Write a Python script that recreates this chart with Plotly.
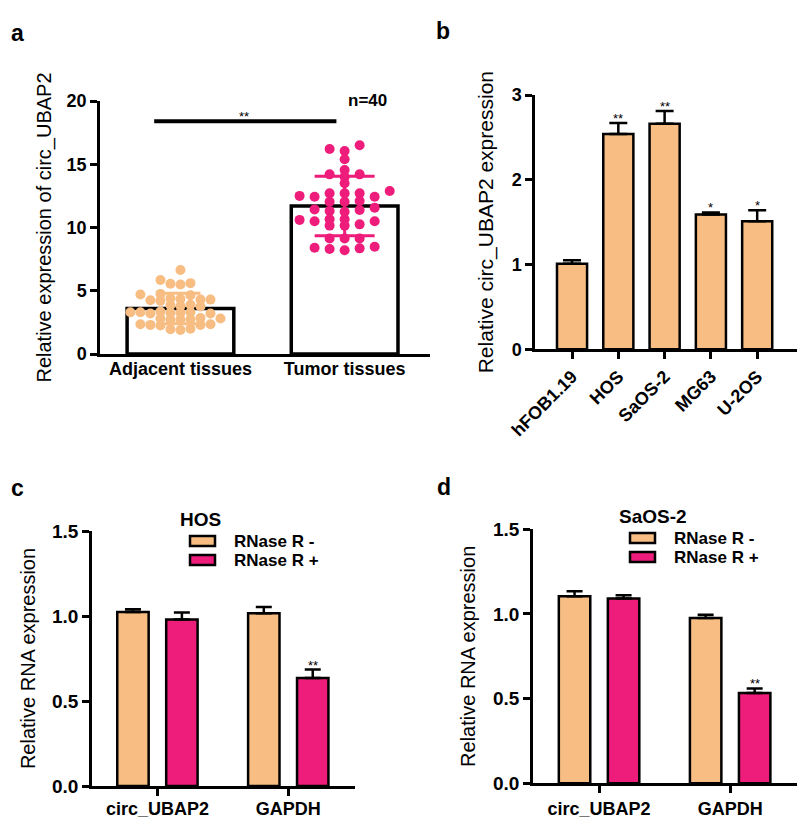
import plotly.graph_objects as go

# ---------------- data ----------------
# panel a
a_groups = ["Adjacent tissues", "Tumor tissues"]
a_adjacent = [6.64,
              5.85, 5.6, 5.55, 5.5,
              4.75, 4.7, 4.65,
              4.35, 4.3, 4.25, 4.3, 4.2, 4.4,
              3.85, 3.8, 3.75, 3.9,
              3.3, 3.25, 3.2, 3.3, 3.35, 3.25, 3.2, 3.3,
              2.8, 2.75, 2.7, 2.8, 2.85, 2.7,
              2.35, 2.3, 2.25, 2.35, 2.3,
              1.95, 1.9, 2.0]
a_tumor = [16.2, 16.05, 16.5, 15.39, 14.2, 14.55, 14.0, 14.2, 13.5, 12.43, 12.43, 12.7,
           12.7, 12.5, 12.89, 12.7, 12.04, 12.04, 12.1, 11.57, 11.38, 11.3, 11.25, 11.43,
           10.65, 10.5, 10.5, 10.6, 10.65, 10.15, 10.15, 10.25, 9.14, 9.14, 9.14, 8.3,
           8.48, 8.35, 8.4, 8.2]
a_mean = [3.6, 11.7]
a_sd = [1.2, 2.35]
a_n_label = "n=40"
a_sig = "**"

# panel b
b_cells = ["hFOB1.19", "HOS", "SaOS-2", "MG63", "U-2OS"]
b_values = [1.01, 2.54, 2.66, 1.59, 1.51]
b_err = [0.04, 0.13, 0.15, 0.025, 0.13]
b_sig = ["", "**", "**", "*", "*"]

# panels c / d
cd_genes = ["circ_UBAP2", "GAPDH"]
cd_series = ["RNase R -", "RNase R +"]
c_minus = [1.024, 1.016]
c_minus_err = [0.016, 0.037]
c_plus = [0.98, 0.636]
c_plus_err = [0.04, 0.049]
c_sig = ["", "**"]
d_minus = [1.105, 0.976]
d_minus_err = [0.029, 0.02]
d_plus = [1.091, 0.533]
d_plus_err = [0.019, 0.027]
d_sig = ["", "**"]

# ---------------- style ----------------
ORANGE = "#F7BD83"
PINK = "#EE1C7A"
FONT = "Arial, Liberation Sans, sans-serif"
W, H = 800, 821


def swarm(values, center, step_px, px_per_x, px_per_y, diam):
    """Simple column beeswarm: same column points must be >= diam px apart."""
    res = [0.0] * len(values)
    placed = []
    order = sorted(range(len(values)), key=lambda i: values[i])
    cands = [0] + [s * k for k in range(1, 30) for s in (-1, 1)]
    for i in order:
        yp = values[i] * px_per_y
        for k in cands:
            if all(not (kk == k and abs(yp - yy) < diam) for kk, yy in placed):
                placed.append((k, yp))
                res[i] = center + k * step_px / px_per_x
                break
    return res


fig = go.Figure()

# ---------- panel a ----------
fig.add_trace(go.Bar(x=[0, 1], y=a_mean, width=0.65, marker=dict(color="white", line=dict(color="black", width=3.5)),
                     xaxis="x", yaxis="y", showlegend=False))
px_x_a = 164.0
px_y_a = 12.65
for i, (vals, col, step, cap, dm) in enumerate([(a_adjacent, ORANGE, 10, 20, 6.5), (a_tumor, PINK, 15, 30, 6)]):
    xs = swarm(vals, i, step, px_x_a, px_y_a, dm)
    fig.add_trace(go.Scatter(x=xs, y=vals, mode="markers", marker=dict(color=col, size=10),
                             xaxis="x", yaxis="y", showlegend=False))
    fig.add_trace(go.Scatter(x=[i], y=[a_mean[i]], mode="lines",
                             error_y=dict(type="data", array=[a_sd[i]], color=col, thickness=3, width=cap),
                             xaxis="x", yaxis="y", showlegend=False))

# ---------- panel b ----------
fig.add_trace(go.Bar(x=list(range(len(b_cells))), y=b_values, width=0.65,
                     marker=dict(color=ORANGE, line=dict(color="black", width=2.5)),
                     error_y=dict(type="data", symmetric=False, array=b_err, arrayminus=[0] * len(b_err),
                                  color="black", thickness=2.5, width=9),
                     xaxis="x2", yaxis="y2", showlegend=False))

# ---------- panels c, d ----------
BW = 0.24
OFF = 0.187
for (mv, me, pv, pe, xa, ya) in [(c_minus, c_minus_err, c_plus, c_plus_err, "x3", "y3"),
                                 (d_minus, d_minus_err, d_plus, d_plus_err, "x4", "y4")]:
    for vals, errs, col, sgn, name in [(mv, me, ORANGE, -1, cd_series[0]), (pv, pe, PINK, 1, cd_series[1])]:
        fig.add_trace(go.Bar(x=list(range(len(cd_genes))), y=vals, width=BW, offset=sgn * OFF - BW / 2,
                             name=name, marker=dict(color=col, line=dict(color="black", width=2.5)),
                             error_y=dict(type="data", symmetric=False, array=errs, arrayminus=[0] * len(errs),
                                          color="black", thickness=2.5, width=8),
                             xaxis=xa, yaxis=ya, showlegend=False))

annotations = []
shapes = []

# panel letters
for txt, x, y in [("a", 17, 33), ("b", 443, 31), ("c", 17, 488), ("d", 444, 487)]:
    annotations.append(dict(text=f"<b>{txt}</b>", x=x / W, y=1 - y / H, xref="paper", yref="paper",
                            showarrow=False, font=dict(family=FONT, size=23, color="black"),
                            xanchor="center", yanchor="middle"))

# panel a significance
shapes.append(dict(type="line", xref="x", yref="y", x0=-0.16, x1=0.95, y0=18.4, y1=18.4,
                   line=dict(color="black", width=4)))
annotations.append(dict(text=a_sig, x=0.39, y=18.4, xref="x", yref="y", showarrow=False,
                        font=dict(family=FONT, size=13, color="black"), yanchor="bottom", yshift=-5))
annotations.append(dict(text=f"<b>{a_n_label}</b>", x=1.14, y=20, xref="x", yref="y", showarrow=False,
                        font=dict(family=FONT, size=17, color="black"), yanchor="middle"))

# panel b stars
for i, s in enumerate(b_sig):
    if s:
        annotations.append(dict(text=s, x=i, y=b_values[i] + b_err[i], xref="x2", yref="y2", showarrow=False,
                                font=dict(family=FONT, size=13, color="black"), yanchor="bottom", yshift=-5))

# c/d stars + legends
for (pv, pe, sig, xa, ya, title, tx, sx0, tx0, ys) in [
        (c_plus, c_plus_err, c_sig, "x3", "y3", "HOS", 178, 190, 232, (541, 560)),
        (d_plus, d_plus_err, d_sig, "x4", "y4", "SaOS-2", 617, 630, 672, (538, 557))]:
    for i, s in enumerate(sig):
        if s:
            annotations.append(dict(text=s, x=i + OFF, y=pv[i] + pe[i], xref=xa, yref=ya, showarrow=False,
                                    font=dict(family=FONT, size=13, color="black"), yanchor="bottom", yshift=-5))
    annotations.append(dict(text=f"<b>{title}</b>", x=tx / W, y=1 - (ys[0] - 22) / H, xref="paper", yref="paper",
                            showarrow=False, xanchor="left", yanchor="middle",
                            font=dict(family=FONT, size=19, color="black")))
    for yc, col, name in [(ys[0], ORANGE, cd_series[0]), (ys[1], PINK, cd_series[1])]:
        shapes.append(dict(type="rect", xref="paper", yref="paper", x0=sx0 / W, x1=(sx0 + 25) / W,
                           y0=1 - (yc - 5) / H, y1=1 - (yc + 5) / H, fillcolor=col,
                           line=dict(color="black", width=2.5)))
        annotations.append(dict(text=f"<b>{name}</b>", x=tx0 / W, y=1 - yc / H, xref="paper", yref="paper",
                                showarrow=False, xanchor="left", yanchor="middle",
                                font=dict(family=FONT, size=17, color="black")))

axis_common = dict(showline=True, linecolor="black", linewidth=2.5, showgrid=False, zeroline=False,
                   ticks="outside", ticklen=7, tickwidth=2.5, tickcolor="black", automargin=False,
                   tickfont=dict(family=FONT, size=18, color="black"))
title_font = dict(family=FONT, size=20, color="black")
tick19 = dict(family=FONT, size=19, color="black")


def ax(**kw):
    d = dict(axis_common)
    d.update(kw)
    return d


fig.update_layout(
    width=W, height=H, margin=dict(l=0, r=0, t=0, b=0, autoexpand=False),
    paper_bgcolor="white", plot_bgcolor="white", barmode="overlay",
    font=dict(family=FONT, color="black"),
    # panel a
    xaxis=ax(domain=[100 / W, 430 / W], range=[-0.49, 1.52], tickvals=[0, 1],
             ticktext=[f"<b>{g}</b>" for g in a_groups], ticks="", ticklabelstandoff=-3, anchor="y"),
    yaxis=ax(domain=[1 - 354 / H, 1 - 101 / H], range=[0, 20], tickvals=[0, 5, 10, 15, 20],
             ticktext=["<b>0</b>", "<b>5</b>", "<b>10</b>", "<b>15</b>", "<b>20</b>"], anchor="x",
             title=dict(text="Relative expression of circ_UBAP2", font=title_font, standoff=10)),
    # panel b
    xaxis2=ax(domain=[535 / W, 797 / W], range=[-0.8, 4.86], tickvals=list(range(len(b_cells))),
              ticktext=[f"<b>{c}</b>" for c in b_cells], tickangle=-45, anchor="y2"),
    yaxis2=ax(domain=[1 - 349.3 / H, 1 - 95 / H], range=[0, 3], tickvals=[0, 1, 2, 3],
              ticktext=["<b>0</b>", "<b>1</b>", "<b>2</b>", "<b>3</b>"], anchor="x2",
              title=dict(text="Relative circ_UBAP2 expression", font=dict(family=FONT, size=21, color="black"),
                         standoff=13)),
    # panel c
    xaxis3=ax(domain=[92 / W, 355 / W], range=[-0.5, 1.51], tickvals=[0, 1], ticklabelstandoff=-2,
              ticktext=[f"<b>{g}</b>" for g in cd_genes], anchor="y3"),
    yaxis3=ax(domain=[1 - 786 / H, 1 - 531 / H], range=[0, 1.5], tickvals=[0, 0.5, 1.0, 1.5], tickfont=tick19,
              ticktext=["<b>0.0</b>", "<b>0.5</b>", "<b>1.0</b>", "<b>1.5</b>"], anchor="x3",
              title=dict(text="Relative RNA expression", font=title_font, standoff=12)),
    # panel d
    xaxis4=ax(domain=[533 / W, 797 / W], range=[-0.504, 1.51], tickvals=[0, 1],
              ticktext=[f"<b>{g}</b>" for g in cd_genes], anchor="y4"),
    yaxis4=ax(domain=[1 - 783.3 / H, 1 - 529.3 / H], range=[0, 1.5], tickvals=[0, 0.5, 1.0, 1.5], tickfont=tick19,
              ticktext=["<b>0.0</b>", "<b>0.5</b>", "<b>1.0</b>", "<b>1.5</b>"], anchor="x4",
              title=dict(text="Relative RNA expression", font=title_font, standoff=13)),
    annotations=annotations, shapes=shapes,
)

fig.write_html("out.html", config={"displayModeBar": False},
               post_script="document.body.style.margin='0';document.body.style.overflow='hidden';")
